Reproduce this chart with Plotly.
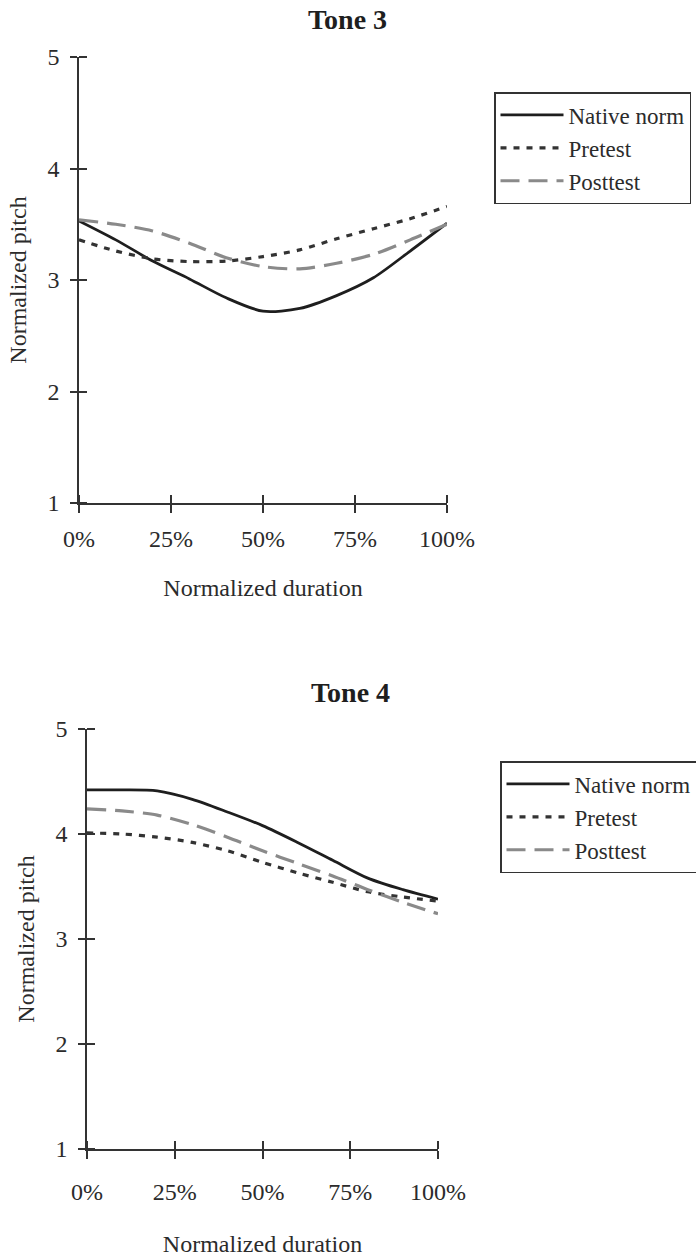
import plotly.graph_objects as go

W, H = 696, 1257

duration_pct = [0, 10, 20, 30, 40, 50, 60, 70, 80, 90, 100]
x_tick_vals = [0, 25, 50, 75, 100]
x_tick_text = ["0%", "25%", "50%", "75%", "100%"]
y_tick_vals = [1, 2, 3, 4, 5]

tone3_native = [3.53, 3.36, 3.17, 3.01, 2.84, 2.72, 2.745, 2.86, 3.02, 3.26, 3.51]
tone3_pretest = [3.36, 3.26, 3.19, 3.165, 3.17, 3.21, 3.27, 3.37, 3.46, 3.55, 3.66]
tone3_posttest = [3.54, 3.50, 3.44, 3.33, 3.20, 3.12, 3.10, 3.15, 3.23, 3.36, 3.50]

tone4_native = [4.42, 4.42, 4.41, 4.33, 4.21, 4.08, 3.92, 3.75, 3.58, 3.47, 3.38]
tone4_pretest = [4.01, 4.00, 3.97, 3.92, 3.84, 3.73, 3.63, 3.54, 3.45, 3.40, 3.36]
tone4_posttest = [4.24, 4.22, 4.18, 4.09, 3.97, 3.84, 3.72, 3.60, 3.47, 3.35, 3.24]

series_names = ["Native norm", "Pretest", "Posttest"]
FONT = "Liberation Serif"
TXT = "#2b2b2b"
AX = "#333333"

styles = [
    dict(color="#1e1e1e", width=2.8, dash="solid"),
    dict(color="#333333", width=3.2, dash="6px,7px"),
    dict(color="#8a8a8a", width=3.2, dash="19px,9px"),
]

fig = go.Figure()

def add_panel(vals_list, xa, ya, legend):
    for name, vals, st in zip(series_names, vals_list, styles):
        fig.add_trace(go.Scatter(
            x=duration_pct, y=vals, mode="lines", name=name,
            line=dict(color=st["color"], width=st["width"], dash=st["dash"], shape="spline", smoothing=0.8),
            xaxis=xa, yaxis=ya, legend=legend, showlegend=True,
        ))

add_panel([tone3_native, tone3_pretest, tone3_posttest], "x", "y", "legend")
add_panel([tone4_native, tone4_pretest, tone4_posttest], "x2", "y2", "legend2")

def px_x(p):
    return p / W

def px_y(p):
    return 1 - p / H

panels = [
    # (x0, x1, ytop, ybottom, x-label standoff, x-title standoff)
    (79, 447, 57, 503, 5, 29),
    (87, 438, 729, 1149, 12, 34),
]

axis_common = dict(
    showgrid=False, zeroline=False, showline=True, linecolor=AX, linewidth=1.6,
    ticks="outside", tickcolor=AX, tickwidth=1.6,
    tickfont=dict(family=FONT, size=24, color=TXT),
)

layout = dict(
    width=W, height=H,
    margin=dict(l=0, r=0, t=0, b=0, autoexpand=False),
    paper_bgcolor="white", plot_bgcolor="white",
    font=dict(family=FONT, color=TXT),
)

for i, (x0, x1, yt, yb, xls, xts) in enumerate(panels):
    n = "" if i == 0 else "2"
    xd = [px_x(x0), px_x(x1)]
    yd = [px_y(yb), px_y(yt)]
    # major ticks drawn outside, minor ticks at the same values drawn inside,
    # so each tick mark crosses the axis line as in the original
    layout["xaxis" + n] = dict(
        axis_common, domain=xd, range=[0, 100], tickvals=x_tick_vals, ticktext=x_tick_text,
        ticklen=8, anchor="y" + n, ticklabelstandoff=xls,
        minor=dict(tickvals=[v + 1e-6 for v in x_tick_vals], ticks="inside", ticklen=8,
                   tickcolor=AX, tickwidth=1.6, showgrid=False),
        title=dict(text="Normalized duration", font=dict(family=FONT, size=24, color=TXT), standoff=xts),
    )
    layout["yaxis" + n] = dict(
        axis_common, domain=yd, range=[1, 5], tickvals=y_tick_vals, ticklen=7,
        anchor="x" + n, ticklabelstandoff=6,
        minor=dict(tickvals=[v + 1e-7 for v in y_tick_vals], ticks="inside", ticklen=8,
                   tickcolor=AX, tickwidth=1.6, showgrid=False),
        title=dict(text="Normalized pitch", font=dict(family=FONT, size=24, color=TXT), standoff=14),
    )

legend_common = dict(
    xanchor="left", yanchor="top", bgcolor="white", bordercolor=AX, borderwidth=1.5,
    font=dict(family=FONT, size=23, color=TXT), itemwidth=63, tracegroupgap=0,
)
layout["legend"] = dict(legend_common, x=px_x(494), y=px_y(92))
layout["legend2"] = dict(legend_common, x=px_x(500), y=px_y(761))

layout["annotations"] = [
    dict(text="<b>Tone 3</b>", x=px_x(347), y=px_y(20), xref="paper", yref="paper",
         xanchor="center", yanchor="middle",
         showarrow=False, font=dict(family=FONT, size=28, color="#1e1e1e")),
    dict(text="<b>Tone 4</b>", x=px_x(350), y=px_y(692), xref="paper", yref="paper",
         xanchor="center", yanchor="middle",
         showarrow=False, font=dict(family=FONT, size=28, color="#1e1e1e")),
]

fig.update_layout(**layout)
fig.write_html("out.html")
